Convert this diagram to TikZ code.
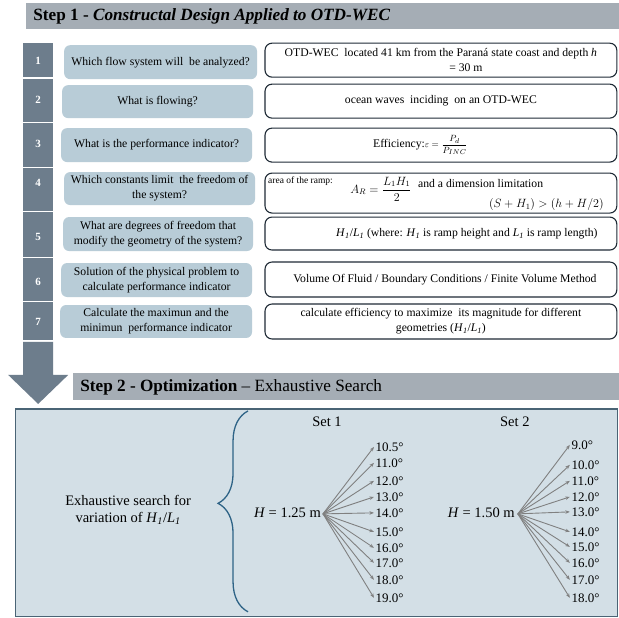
\documentclass[tikz,border=0pt]{standalone}
\usepackage{amsmath}
\usepackage{fontspec}
\setmainfont{Liberation Serif}
\usetikzlibrary{arrows.meta,decorations.pathreplacing}
\definecolor{barcol}{HTML}{A5ADB5}
\definecolor{numcol}{HTML}{6D7D8C}
\definecolor{qcol}{HTML}{B8CCD7}
\definecolor{boxcol}{HTML}{D3DFE6}
\definecolor{boxedge}{HTML}{4A6475}
\definecolor{edgecol}{HTML}{1F2B36}
\definecolor{bracecol}{HTML}{2E6386}
\definecolor{arrcol}{HTML}{808080}
\newcommand{\Hone}{\textit{H}\textsubscript{\textit{1}}}
\newcommand{\Lone}{\textit{L}\textsubscript{\textit{1}}}
\tikzset{
  headtext/.style={anchor=west, inner sep=0pt, font=\fontsize{17.2}{20}\selectfont},
  numtext/.style={text=white, font=\bfseries\fontsize{11}{13}\selectfont},
  qbox/.style={fill=qcol, rounded corners=6pt, inner sep=0pt, align=center,
    font=\fontsize{11.7}{15}\selectfont},
  abox/.style={draw=edgecol, fill=white, line width=1.1pt, rounded corners=7pt,
    inner sep=0pt, align=center, minimum width=352, font=\fontsize{11.7}{15}\selectfont},
  atext/.style={inner sep=0pt, align=center, font=\fontsize{11.7}{15}\selectfont},
  smalltext/.style={inner sep=0pt, font=\fontsize{9.5}{11}\selectfont},
  bigtext/.style={inner sep=0pt, align=center, font=\fontsize{14.5}{17}\selectfont},
  deglab/.style={anchor=west, inner sep=1.5pt, font=\fontsize{13}{15}\selectfont},
  fanarrow/.style={draw=arrcol, line width=0.9pt, -{Stealth[length=4.5pt,width=3.5pt]}}
}
\begin{document}
\begin{tikzpicture}[scale=1.000000,x=1pt,y=1pt]
\filldraw[color=white] (0.000000,-618.000000) rectangle (619.000000,0.000000);
% Drawing headers
% Header 1: Step 1
\fill[barcol] (26.000000,-3.000000) rectangle (619.000000,-29.000000);
\node[headtext] (head1) at (33.000000,-16.500000) {\textbf{Step 1 - \textit{Constructal Design Applied to OTD-WEC}}};
% Header 2: Step 2
\fill[barcol] (73.000000,-373.000000) rectangle (619.000000,-400.000000);
\node[headtext] (head2) at (80.000000,-387.000000) {\textbf{Step 2 - Optimization} -- Exhaustive Search};
% Done with headers; drawing number column
\fill[numcol] (23.000000,-43.000000) rectangle (53.000000,-77.000000);
\fill[numcol] (23.000000,-78.500000) rectangle (53.000000,-121.500000);
\fill[numcol] (23.000000,-123.000000) rectangle (53.000000,-166.500000);
\fill[numcol] (23.000000,-168.000000) rectangle (53.000000,-210.500000);
\fill[numcol] (23.000000,-212.000000) rectangle (53.000000,-256.500000);
\fill[numcol] (23.000000,-258.000000) rectangle (53.000000,-300.500000);
\fill[numcol] (23.000000,-302.000000) rectangle (53.000000,-340.500000);
\fill[numcol] (23.000000,-342.000000) -- (53.000000,-342.000000) -- (53.000000,-375.000000) -- (68.000000,-375.000000) -- (38.000000,-404.000000) -- (8.000000,-375.000000) -- (23.000000,-375.000000) -- cycle;
\node[numtext] (n1) at (38.000000,-61.000000) {1};
\node[numtext] (n2) at (38.000000,-100.000000) {2};
\node[numtext] (n3) at (38.000000,-143.500000) {3};
\node[numtext] (n4) at (38.000000,-183.000000) {4};
\node[numtext] (n5) at (38.000000,-237.000000) {5};
\node[numtext] (n6) at (38.000000,-282.000000) {6};
\node[numtext] (n7) at (38.000000,-322.000000) {7};
% Done with number column; drawing rows
% Row 1: system
\node[qbox, minimum width=193, minimum height=34] (q1) at (160.500000,-62.000000) {Which flow system will~ be analyzed?};
\node[abox, minimum height=34] (a1) at (441.000000,-60.000000) {OTD-WEC~ located 41 km from the Paraná state coast and depth \textit{h}\\\hspace*{50pt}= 30 m};
% Row 2: flowing
\node[qbox, minimum width=191, minimum height=33] (q2) at (157.500000,-101.500000) {What is flowing?};
\node[abox, minimum height=34] (a2) at (441.000000,-101.000000) {ocean waves~ inciding~ on an OTD-WEC};
% Row 3: indicator
\node[qbox, minimum width=191, minimum height=34] (q3) at (156.500000,-145.000000) {What is the performance indicator?};
\node[abox, minimum height=34] (a3) at (441.000000,-145.000000) {};
\node[atext, anchor=west] (a3t) at (373.000000,-145.000000) {Efficiency:{\fontsize{9.5}{10}\selectfont$\varepsilon = \dfrac{P_d}{P_{INC}}$}};
% Row 4: constants
\node[qbox, minimum width=191, minimum height=33] (q4) at (159.500000,-188.500000) {Which constants limit~ the freedom of\\the system?};
\node[abox, minimum height=40] (a4) at (441.000000,-193.000000) {};
\node[smalltext, anchor=west] (a4a) at (268.000000,-181.000000) {area of the ramp:};
\node[atext] (a4b) at (381.000000,-189.000000) {$A_R = \dfrac{L_1H_1}{2}$};
\node[atext, anchor=west] (a4c) at (418.000000,-183.000000) {and a dimension limitation};
\node[atext, anchor=east] (a4d) at (604.000000,-204.500000) {$(S + H_1) > (h + H/2)$};
% Row 5: degrees of freedom
\node[qbox, minimum width=190, minimum height=34] (q5) at (158.000000,-234.000000) {What are degrees of freedom that\\modify the geometry of the system?};
\node[abox, minimum height=33] (a5) at (441.000000,-233.500000) {};
\node[atext] (a5t) at (467.000000,-234.000000) {\Hone/\Lone{} (where: \Hone{} is ramp height and \Lone{} is ramp length)};
% Row 6: solution
\node[qbox, minimum width=191, minimum height=34] (q6) at (156.500000,-280.000000) {Solution of the physical problem to\\calculate performance indicator};
\node[abox, minimum height=35] (a6) at (441.000000,-279.500000) {};
\node[atext] (a6t) at (445.000000,-280.000000) {Volume Of Fluid / Boundary Conditions / Finite Volume Method};
% Row 7: maximum
\node[qbox, minimum width=192, minimum height=33] (q7) at (156.000000,-321.500000) {Calculate the maximun and the\\minimun~ performance indicator};
\node[abox, minimum height=35] (a7) at (441.000000,-321.500000) {calculate efficiency to maximize~ its magnitude for different\\geometries (\Hone/\Lone)};
% Done with rows; drawing optimization box
\filldraw[fill=boxcol, draw=boxedge, line width=1.2pt] (15.000000,-409.000000) rectangle (618.000000,-617.000000);
\node[bigtext] (search) at (128.000000,-510.000000) {Exhaustive search for\\variation of \Hone/\Lone};
\draw[bracecol, line width=1.3pt, decorate, decoration={brace, amplitude=30pt, aspect=0.54}] (248.000000,-612.000000) -- (248.000000,-411.000000);
% Set 1
\node[bigtext] (set1) at (327.000000,-422.000000) {Set 1};
\node[bigtext, anchor=east] (h1) at (321.000000,-513.000000) {\textit{H} = 1.25 m};
\coordinate (o1) at (323.000000,-514.000000);
\node[deglab] (d1a) at (374.000000,-447.000000) {10.5°};
\node[deglab] (d1b) at (374.000000,-463.000000) {11.0°};
\node[deglab] (d1c) at (374.000000,-481.000000) {12.0°};
\node[deglab] (d1d) at (374.000000,-497.000000) {13.0°};
\node[deglab] (d1e) at (374.000000,-513.000000) {14.0°};
\node[deglab] (d1f) at (374.000000,-532.000000) {15.0°};
\node[deglab] (d1g) at (374.000000,-548.000000) {16.0°};
\node[deglab] (d1h) at (374.000000,-563.000000) {17.0°};
\node[deglab] (d1i) at (374.000000,-580.000000) {18.0°};
\node[deglab] (d1j) at (374.000000,-598.000000) {19.0°};
\draw[fanarrow] (o1) -- (d1a.west);
\draw[fanarrow] (o1) -- (d1b.west);
\draw[fanarrow] (o1) -- (d1c.west);
\draw[fanarrow] (o1) -- (d1d.west);
\draw[fanarrow] (o1) -- (d1e.west);
\draw[fanarrow] (o1) -- (d1f.west);
\draw[fanarrow] (o1) -- (d1g.west);
\draw[fanarrow] (o1) -- (d1h.west);
\draw[fanarrow] (o1) -- (d1i.west);
\draw[fanarrow] (o1) -- (d1j.west);
% Set 2
\node[bigtext] (set2) at (515.000000,-422.000000) {Set 2};
\node[bigtext, anchor=east] (h2) at (515.000000,-513.000000) {\textit{H} = 1.50 m};
\coordinate (o2) at (518.000000,-514.000000);
\node[deglab] (d2a) at (570.000000,-445.000000) {9.0°};
\node[deglab] (d2b) at (570.000000,-465.000000) {10.0°};
\node[deglab] (d2c) at (570.000000,-481.000000) {11.0°};
\node[deglab] (d2d) at (570.000000,-497.000000) {12.0°};
\node[deglab] (d2e) at (570.000000,-512.000000) {13.0°};
\node[deglab] (d2f) at (570.000000,-532.000000) {14.0°};
\node[deglab] (d2g) at (570.000000,-547.000000) {15.0°};
\node[deglab] (d2h) at (570.000000,-563.000000) {16.0°};
\node[deglab] (d2i) at (570.000000,-580.000000) {17.0°};
\node[deglab] (d2j) at (570.000000,-598.000000) {18.0°};
\draw[fanarrow] (o2) -- (d2a.west);
\draw[fanarrow] (o2) -- (d2b.west);
\draw[fanarrow] (o2) -- (d2c.west);
\draw[fanarrow] (o2) -- (d2d.west);
\draw[fanarrow] (o2) -- (d2e.west);
\draw[fanarrow] (o2) -- (d2f.west);
\draw[fanarrow] (o2) -- (d2g.west);
\draw[fanarrow] (o2) -- (d2h.west);
\draw[fanarrow] (o2) -- (d2i.west);
\draw[fanarrow] (o2) -- (d2j.west);
% Done with optimization box
\end{tikzpicture}
\end{document}
